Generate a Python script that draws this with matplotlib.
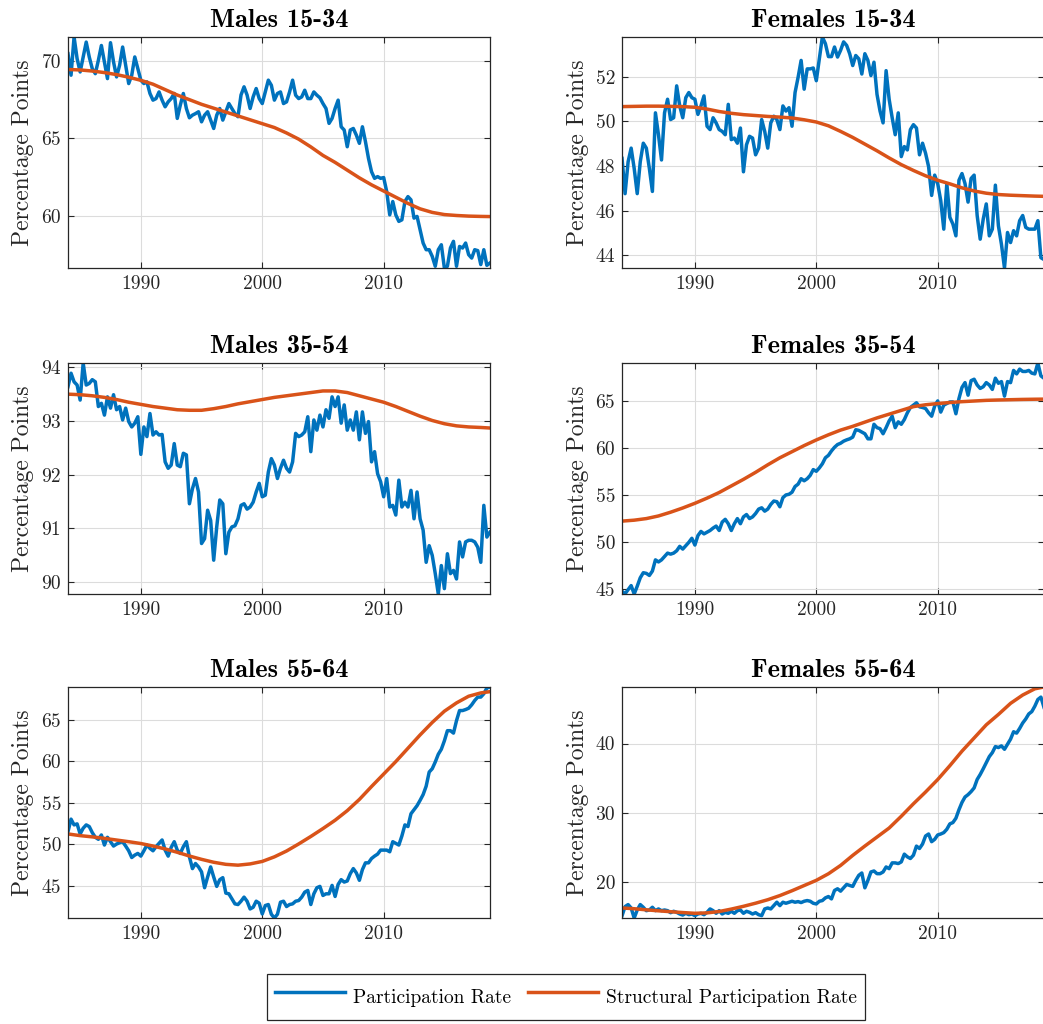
import matplotlib
matplotlib.use('Agg')
import matplotlib.pyplot as plt
import numpy as np

plt.rcParams['font.family'] = 'cmr10'
plt.rcParams['axes.unicode_minus'] = False

# quarterly sample dates, 1984Q1 .. 2018Q4
quarters = 1984 + np.arange(140) / 4
# structural rate read once a year (plus the last quarter)
structYears = np.append(np.arange(1984, 2019), 2018.75)

#
# SECTION: data
#
males1534Part = [
    70.47, 69.08, 71.55, 70.15, 69.29, 70.26, 71.22, 70.26, 69.5, 69.18,
    70.04, 71.0, 69.94, 68.86, 71.18, 69.94, 68.97, 69.72, 70.9, 69.72,
    68.54, 69.08, 70.26, 69.5, 68.76, 68.54, 68.65, 67.9, 67.47, 67.57,
    68.0, 67.47, 67.04, 67.36, 67.57, 67.9, 66.29, 67.15, 67.9, 66.93,
    66.33, 66.5, 66.6, 66.72, 66.07, 66.5, 66.72, 66.18, 65.64, 66.5,
    66.93, 66.18, 66.72, 67.25, 66.93, 66.6, 66.4, 67.8, 68.33, 67.8,
    66.93, 67.68, 68.22, 67.57, 67.25, 68.0, 68.76, 68.43, 67.47, 67.9,
    68.0, 67.25, 67.36, 68.0, 68.76, 67.79, 67.57, 67.68, 68.11, 67.57,
    67.57, 68.0, 67.79, 67.62, 67.25, 66.93, 65.97, 66.29, 66.93, 67.47,
    65.75, 65.54, 64.46, 65.54, 65.64, 65.21, 64.68, 65.75, 64.79, 63.71,
    62.85, 62.42, 62.53, 62.42, 62.47, 61.57, 60.06, 60.92, 60.06, 59.64,
    59.74, 60.92, 61.24, 61.03, 59.85, 59.96, 59.1, 58.24, 57.81, 57.81,
    57.38, 56.74, 57.81, 58.13, 56.63, 56.74, 57.92, 58.35, 56.74, 58.02,
    57.92, 58.24, 57.49, 57.27, 57.81, 57.75, 56.85, 57.81, 56.8, 56.95]
males1534Struct = [
    69.45, 69.42, 69.35, 69.25, 69.12, 68.95, 68.75, 68.5, 68.15, 67.8,
    67.5, 67.2, 66.95, 66.7, 66.45, 66.2, 65.95, 65.7, 65.35, 64.95,
    64.45, 63.9, 63.45, 62.95, 62.45, 62.0, 61.6, 61.2, 60.8, 60.45,
    60.22, 60.08, 60.02, 59.98, 59.96, 59.95]

females1534Part = [
    48.34, 46.76, 48.19, 48.8, 47.89, 46.76, 48.19, 49.02, 48.8, 47.89,
    46.86, 50.38, 49.4, 48.27, 50.38, 50.99, 50.08, 50.16, 51.59, 50.69,
    50.16, 51.06, 51.29, 51.06, 50.99, 50.31, 50.69, 51.14, 49.78, 49.63,
    50.16, 49.93, 49.63, 49.55, 49.4, 50.76, 49.18, 49.25, 49.02, 49.7,
    47.74, 48.95, 49.33, 49.25, 48.5, 48.8, 50.08, 49.55, 48.8, 49.93,
    50.23, 50.08, 49.63, 50.69, 50.46, 50.61, 49.78, 51.29, 51.97, 52.73,
    51.44, 52.35, 52.35, 52.39, 51.82, 52.8, 53.78, 53.48, 52.9, 52.9,
    53.33, 52.88, 53.18, 53.56, 53.4, 53.03, 52.5, 52.95, 52.8, 52.12,
    53.03, 52.73, 52.05, 52.65, 51.21, 50.46, 49.93, 52.27, 50.99, 50.16,
    49.4, 50.38, 48.42, 48.87, 48.72, 49.63, 49.85, 49.7, 48.5, 49.02,
    48.57, 47.97, 46.68, 47.59, 47.21, 46.45, 45.17, 47.21, 45.7, 45.4,
    44.87, 47.36, 47.66, 47.21, 46.38, 47.44, 47.59, 45.78, 44.72, 45.62,
    46.3, 44.87, 45.17, 47.14, 45.32, 44.49, 43.43, 45.02, 44.57, 45.1,
    44.87, 45.55, 45.78, 45.25, 45.17, 45.17, 45.17, 45.55, 43.89, 43.81]
females1534Struct = [
    50.66, 50.67, 50.68, 50.68, 50.67, 50.66, 50.63, 50.55, 50.44, 50.36,
    50.3, 50.26, 50.22, 50.19, 50.15, 50.07, 49.97, 49.8, 49.55, 49.28,
    48.98, 48.68, 48.36, 48.06, 47.8, 47.56, 47.36, 47.2, 47.02, 46.88,
    46.78, 46.72, 46.69, 46.67, 46.65, 46.64]

males3554Part = [
    93.64, 93.89, 93.73, 93.67, 93.39, 94.08, 93.67, 93.7, 93.77, 93.73,
    93.27, 93.33, 93.11, 93.45, 93.24, 93.49, 93.21, 93.27, 93.02, 93.24,
    92.99, 92.89, 92.96, 93.08, 92.38, 92.89, 92.71, 93.14, 92.74, 92.8,
    92.74, 92.75, 92.24, 92.12, 92.18, 92.58, 92.18, 92.15, 92.4, 92.37,
    91.46, 91.74, 91.93, 91.68, 90.72, 90.81, 91.34, 91.15, 90.41, 91.03,
    91.53, 91.46, 90.53, 90.93, 91.03, 91.05, 91.18, 91.43, 91.46, 91.36,
    91.4, 91.49, 91.68, 91.84, 91.59, 91.62, 92.05, 92.3, 92.18, 91.93,
    92.12, 92.27, 92.12, 92.05, 92.24, 92.77, 92.71, 92.74, 92.8, 93.08,
    92.43, 93.02, 92.83, 93.11, 92.89, 93.21, 93.05, 93.45, 93.27, 93.45,
    92.96, 93.3, 92.83, 93.02, 92.83, 93.17, 92.65, 93.17, 92.77, 92.99,
    92.24, 92.43, 92.02, 91.87, 91.59, 91.93, 91.4, 91.43, 91.25, 91.9,
    91.4, 91.49, 91.4, 91.71, 91.18, 91.68, 91.18, 90.97, 90.37, 90.68,
    90.5, 90.16, 89.78, 90.31, 89.88, 90.53, 90.16, 90.22, 90.06, 90.75,
    90.47, 90.75, 90.78, 90.78, 90.75, 90.65, 90.37, 91.43, 90.84, 90.93]
males3554Struct = [
    93.5, 93.49, 93.47, 93.44, 93.4, 93.35, 93.31, 93.27, 93.24, 93.21,
    93.2, 93.2, 93.23, 93.27, 93.32, 93.36, 93.4, 93.44, 93.47, 93.5,
    93.53, 93.56, 93.56, 93.53, 93.47, 93.41, 93.35, 93.27, 93.18, 93.09,
    93.01, 92.95, 92.91, 92.89, 92.88, 92.87]

females3554Part = [
    44.72, 44.46, 44.9, 45.33, 44.43, 45.26, 46.16, 46.7, 46.63, 46.41,
    46.88, 48.07, 47.85, 48.07, 48.43, 48.79, 48.68, 48.79, 49.04, 49.51,
    49.22, 49.58, 49.94, 50.37, 49.65, 50.66, 51.1, 50.84, 51.02, 51.2,
    51.46, 51.67, 51.2, 52.1, 52.39, 51.92, 51.2, 51.92, 52.47, 51.92,
    52.65, 52.9, 52.47, 52.65, 53.01, 53.48, 53.62, 53.26, 53.48, 53.98,
    54.34, 54.27, 53.73, 54.7, 54.99, 55.06, 55.28, 55.89, 56.14, 56.72,
    56.5, 56.72, 57.08, 57.69, 57.51, 57.87, 58.31, 58.95, 59.21, 59.68,
    60.07, 60.36, 60.5, 60.72, 60.86, 60.97, 61.15, 61.94, 61.87, 61.69,
    61.51, 60.97, 60.97, 62.52, 62.16, 62.05, 61.51, 62.16, 62.88, 63.38,
    62.16, 62.78, 62.52, 63.02, 63.74, 64.31, 64.56, 64.81, 64.38, 64.31,
    64.2, 63.74, 63.38, 64.46, 65.01, 63.82, 64.56, 64.73, 64.9, 64.9,
    63.64, 65.26, 66.45, 66.96, 65.62, 67.17, 67.32, 66.71, 66.34, 66.52,
    66.96, 66.71, 66.24, 67.43, 66.89, 67.07, 65.52, 67.07, 66.96, 68.26,
    67.89, 68.4, 68.15, 68.15, 68.26, 67.97, 67.89, 69.05, 67.68, 67.43]
females3554Struct = [
    52.2, 52.3, 52.47, 52.75, 53.15, 53.6, 54.1, 54.65, 55.25, 55.95,
    56.65, 57.4, 58.2, 58.95, 59.6, 60.25, 60.85, 61.4, 61.9, 62.3,
    62.75, 63.2, 63.6, 64.0, 64.4, 64.6, 64.73, 64.84, 64.93, 65.0,
    65.07, 65.11, 65.14, 65.17, 65.19, 65.2]

males5564Part = [
    51.54, 53.03, 52.34, 52.46, 51.25, 51.94, 52.34, 52.14, 51.41, 50.85,
    50.61, 51.13, 49.92, 50.85, 50.32, 49.8, 50.04, 50.2, 50.32, 49.8,
    49.23, 48.42, 48.71, 48.91, 48.59, 49.23, 49.92, 49.52, 49.23, 49.72,
    50.12, 50.53, 49.31, 48.59, 49.64, 50.32, 49.31, 48.91, 49.72, 50.32,
    48.5, 47.09, 47.7, 47.29, 46.69, 44.79, 46.08, 47.29, 46.08, 44.95,
    45.76, 46.0, 44.14, 44.06, 43.45, 42.85, 42.77, 43.17, 43.66, 43.17,
    42.24, 42.44, 43.17, 42.93, 41.64, 42.65, 42.77, 41.6, 41.15, 41.6,
    43.05, 43.17, 42.53, 42.77, 42.85, 43.17, 43.25, 43.66, 44.26, 44.46,
    42.77, 44.06, 44.79, 44.95, 43.86, 44.06, 44.06, 45.07, 43.74, 45.19,
    45.76, 45.47, 45.6, 46.48, 47.09, 46.57, 45.68, 46.97, 47.78, 47.78,
    48.3, 48.59, 48.83, 49.31, 49.31, 49.31, 49.11, 50.32, 50.12, 49.92,
    51.01, 52.34, 52.14, 53.68, 54.16, 54.65, 55.29, 55.98, 56.99, 58.69,
    59.09, 59.9, 60.83, 61.43, 62.44, 63.66, 63.66, 63.37, 64.87, 66.08,
    66.08, 66.2, 66.36, 66.77, 67.29, 67.7, 67.7, 68.1, 68.79, 68.91]
males5564Struct = [
    51.25, 51.05, 50.9, 50.72, 50.52, 50.32, 50.1, 49.8, 49.45, 49.05,
    48.6, 48.2, 47.85, 47.6, 47.5, 47.65, 47.95, 48.5, 49.2, 50.05,
    50.95, 51.9, 52.9, 54.05, 55.4, 56.95, 58.45, 59.95, 61.55, 63.15,
    64.65, 66.0, 67.0, 67.8, 68.2, 68.35]

females5564Part = [
    15.15, 16.46, 16.75, 16.26, 14.81, 15.97, 16.75, 16.36, 15.87, 15.97,
    16.36, 15.87, 16.12, 15.87, 15.97, 15.87, 15.58, 15.78, 15.63, 15.39,
    15.24, 15.49, 15.29, 15.39, 15.15, 15.39, 15.49, 15.29, 15.63, 16.12,
    15.87, 15.49, 15.87, 15.39, 15.63, 15.49, 15.78, 15.49, 15.87, 15.97,
    15.49, 15.78, 15.63, 15.39, 15.58, 15.29, 15.15, 16.12, 16.26, 16.12,
    16.6, 17.09, 16.6, 17.09, 16.94, 17.09, 17.23, 17.09, 17.18, 17.04,
    17.23, 17.33, 17.23, 16.94, 16.84, 17.23, 17.33, 17.72, 17.91, 17.57,
    18.79, 19.03, 18.69, 19.17, 19.66, 19.51, 19.37, 20.24, 20.97, 21.31,
    19.17, 20.24, 21.46, 21.6, 21.21, 21.21, 21.46, 22.18, 21.94, 22.77,
    22.77, 22.67, 22.91, 24.03, 23.64, 23.4, 23.88, 25.19, 24.85, 25.49,
    26.65, 26.94, 25.83, 26.17, 26.8, 26.94, 27.14, 27.62, 28.4, 28.59,
    29.22, 30.44, 31.5, 32.28, 32.62, 33.06, 33.59, 34.81, 35.53, 36.36,
    37.23, 38.11, 38.69, 39.56, 39.42, 39.66, 39.17, 39.9, 40.63, 41.7,
    41.5, 42.18, 42.96, 43.54, 44.27, 44.61, 45.39, 46.36, 46.7, 45.24]
females5564Struct = [
    16.26, 16.15, 15.99, 15.85, 15.72, 15.6, 15.49, 15.55, 15.75, 16.1,
    16.5, 16.95, 17.45, 18.05, 18.75, 19.5, 20.25, 21.2, 22.4, 23.85,
    25.2, 26.5, 27.8, 29.5, 31.3, 33.0, 34.8, 36.8, 38.9, 40.8,
    42.7, 44.2, 45.8, 47.0, 47.9, 48.16]

panelTitles = ['Males 15-34', 'Females 15-34', 'Males 35-54',
               'Females 35-54', 'Males 55-64', 'Females 55-64']
panelPart = [males1534Part, females1534Part, males3554Part,
             females3554Part, males5564Part, females5564Part]
panelStruct = [males1534Struct, females1534Struct, males3554Struct,
               females3554Struct, males5564Struct, females5564Struct]
panelYTicks = [[60, 65, 70], [44, 46, 48, 50, 52], [90, 91, 92, 93, 94],
               [45, 50, 55, 60, 65], [45, 50, 55, 60, 65], [20, 30, 40]]
yearTicks = [1990, 2000, 2010]

blue = '#0072BD'
orange = '#D95319'
axisColor = '#262626'

fig = plt.figure(figsize=(10.43, 10.24), dpi=100)

# axes boxes in figure fractions (left, bottom, width, height)
colLeft = [0.0652, 0.5964]
colWidth = 0.4045
rowBottom = [0.7383, 0.4199, 0.1035]
rowHeight = 0.2256

for k in range(6):
    row, col = k // 2, k % 2
    ax = fig.add_axes([colLeft[col], rowBottom[row], colWidth, rowHeight])
    part = np.array(panelPart[k])
    struct = np.array(panelStruct[k])
    ax.plot(quarters, part, color=blue, lw=2.5, label='Participation Rate')
    ax.plot(structYears, struct, color=orange, lw=2.5,
            label='Structural Participation Rate')
    # tight axis limits like MATLAB "axis tight"
    ax.set_xlim(quarters[0], quarters[-1])
    ax.set_ylim(min(part.min(), struct.min()), max(part.max(), struct.max()))
    ax.set_xticks(yearTicks, labels=[str(t) for t in yearTicks])
    ax.set_yticks(panelYTicks[k], labels=[str(t) for t in panelYTicks[k]])
    ax.grid(True, color='#dcdcdc', lw=0.8)
    ax.set_axisbelow(True)
    ax.tick_params(direction='in', top=True, right=True, length=4.5,
                   width=0.8, color=axisColor, labelsize=14, labelcolor=axisColor,
                   pad=5)
    for sp in ax.spines.values():
        sp.set_color(axisColor)
        sp.set_linewidth(0.9)
    ax.set_ylabel('Percentage Points', fontsize=17, color=axisColor, labelpad=5)
    ax.set_title(panelTitles[k], fontfamily='cmb10', fontsize=19,
                 color='black', pad=7)

handles, labels = ax.get_legend_handles_labels()
leg = fig.legend(handles, labels, loc='center', bbox_to_anchor=(0.5427, 0.0264),
                 ncol=2, fontsize=14, frameon=True, fancybox=False,
                 edgecolor=axisColor, framealpha=1, handlelength=3.6,
                 handleheight=2.1, handletextpad=0.4, columnspacing=0.9,
                 borderpad=0.4)
leg.get_frame().set_linewidth(0.9)

fig.savefig('out.png', dpi=100)
